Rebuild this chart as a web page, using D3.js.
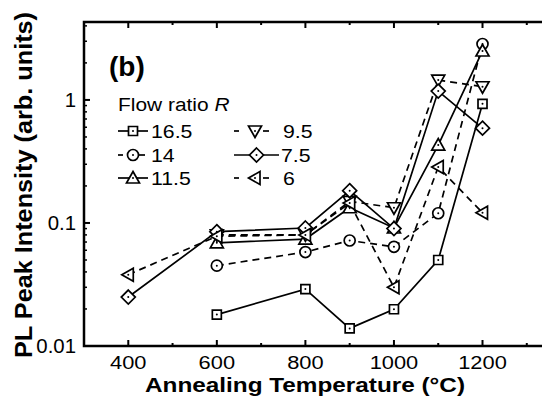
<!DOCTYPE html>
<html>
<head>
<meta charset="utf-8">
<script src="https://cdn.jsdelivr.net/npm/d3@7"></script>
<style>
  body { margin: 0; background: #fff; }
  text { font-family: "Liberation Sans", Arial, sans-serif; fill: #000; }
</style>
</head>
<body>
<div id="chart"></div>
<script>
// annealing temperatures and PL peak intensity per flow ratio
const temps = [400, 600, 800, 900, 1000, 1100, 1200];
const r165 = [null, 0.018, 0.029, 0.0139, 0.0199, 0.050, 0.93];
const r14  = [null, 0.045, 0.058, 0.072, 0.064, 0.12, 2.85];
const r115 = [null, 0.069, 0.074, 0.133, 0.091, 0.43, 2.5];
const r95  = [null, 0.080, 0.080, 0.150, 0.133, 1.45, 1.28];
const r75  = [0.025, 0.085, 0.091, 0.183, 0.090, 1.18, 0.59];
const r6   = [0.038, 0.078, 0.080, 0.145, 0.030, 0.285, 0.121];

const xTicks = [400, 600, 800, 1000, 1200];
const yTicks = [0.01, 0.1, 1];

const series = [
  { name: '16.5', vals: r165, marker: 'square', dashed: false },
  { name: '14', vals: r14, marker: 'circle', dashed: true },
  { name: '11.5', vals: r115, marker: 'triUp', dashed: false },
  { name: '9.5', vals: r95, marker: 'triDown', dashed: true },
  { name: '7.5', vals: r75, marker: 'diamond', dashed: false },
  { name: '6', vals: r6, marker: 'triLeft', dashed: true }
];

const width = 542, height = 398;
const margin = { top: 22, left: 84, bottom: 52 };

const svg = d3.select('#chart').append('svg')
  .attr('width', width)
  .attr('height', height);

const x = d3.scaleLinear().domain([300, 1340]).range([margin.left, 544.5]);
const y = d3.scaleLog().domain([0.01, 4.3]).range([height - margin.bottom, margin.top]);

// the original lettering is a bit wide, so stretch text horizontally
function addText(g, tx, ty, str, sx, anchor) {
  return g.append('text')
    .attr('transform', `translate(${tx},${ty}) scale(${sx},1)`)
    .attr('text-anchor', anchor || 'start')
    .text(str);
}

// marker shapes, centred on 0,0
function markerPath(type) {
  const p = d3.path();
  if (type === 'square') {
    p.rect(-4.5, -4.5, 9, 9);
  } else if (type === 'circle') {
    p.arc(0, 0, 5.5, 0, 2 * Math.PI);
  } else if (type === 'triUp') {
    p.moveTo(0, -6.5); p.lineTo(6.5, 5); p.lineTo(-6.5, 5); p.closePath();
  } else if (type === 'triDown') {
    p.moveTo(0, 6.5); p.lineTo(6.5, -5); p.lineTo(-6.5, -5); p.closePath();
  } else if (type === 'diamond') {
    p.moveTo(0, -7); p.lineTo(7, 0); p.lineTo(0, 7); p.lineTo(-7, 0); p.closePath();
  } else if (type === 'triLeft') {
    p.moveTo(-6.5, 0); p.lineTo(5, -6.5); p.lineTo(5, 6.5); p.closePath();
  }
  return p.toString();
}

function drawMarker(g, type, cx, cy) {
  const m = g.append('g').attr('transform', `translate(${cx},${cy})`);
  m.append('path').attr('d', markerPath(type))
    .attr('fill', '#fff').attr('stroke', '#000').attr('stroke-width', 1.7);
  m.append('circle').attr('r', 1).attr('fill', '#000');
}

// lines
const line = d3.line()
  .defined(d => d.v != null)
  .x(d => x(d.t))
  .y(d => y(d.v));

const plot = svg.append('g');
series.forEach(s => {
  const pts = temps.map((t, i) => ({ t: t, v: s.vals[i] }));
  plot.append('path')
    .datum(pts)
    .attr('d', line)
    .attr('fill', 'none')
    .attr('stroke', '#000')
    .attr('stroke-width', 1.7)
    .attr('stroke-dasharray', s.dashed ? '7,5' : null);
});
series.forEach(s => {
  temps.forEach((t, i) => {
    if (s.vals[i] != null) drawMarker(plot, s.marker, x(t), y(s.vals[i]));
  });
});

// axes frame
const frame = svg.append('g');
frame.append('path')
  .attr('d', `M${width + 5},${y(4.3)}H${margin.left}V${y(0.01)}H${width + 5}`)
  .attr('fill', 'none').attr('stroke', '#000').attr('stroke-width', 2.5);

const xMinor = d3.range(400, 1340, 100).filter(v => !xTicks.includes(v));
const yMinor = [];
[0.01, 0.1, 1].forEach(d => { for (let k = 2; k <= 9; k++) if (d * k < 4.3) yMinor.push(d * k); });

// bottom and top ticks, pointing inward
[[y(0.01), -1], [y(4.3), 1]].forEach(([yy, dir]) => {
  xTicks.forEach(t => frame.append('line')
    .attr('x1', x(t)).attr('x2', x(t)).attr('y1', yy).attr('y2', yy + dir * 6)
    .attr('stroke', '#000').attr('stroke-width', 2));
  xMinor.forEach(t => frame.append('line')
    .attr('x1', x(t)).attr('x2', x(t)).attr('y1', yy).attr('y2', yy + dir * 3)
    .attr('stroke', '#000').attr('stroke-width', 2));
});
yTicks.forEach(t => frame.append('line')
  .attr('x1', margin.left).attr('x2', margin.left + 6).attr('y1', y(t)).attr('y2', y(t))
  .attr('stroke', '#000').attr('stroke-width', 2));
yMinor.forEach(t => frame.append('line')
  .attr('x1', margin.left).attr('x2', margin.left + 3).attr('y1', y(t)).attr('y2', y(t))
  .attr('stroke', '#000').attr('stroke-width', 1.5));

// tick labels
const xl = svg.append('g').attr('font-size', 19);
xTicks.forEach(t => addText(xl, x(t), 369, t, 1.15, 'middle'));
const yl = svg.append('g').attr('font-size', 20);
yTicks.forEach(t => addText(yl, 76, y(t) + 7, d3.format('')(t), 1.02, 'end'));

// axis titles
svg.append('text')
  .attr('x', 305).attr('y', 392)
  .attr('text-anchor', 'middle').attr('font-size', 20).attr('font-weight', 'bold')
  .attr('textLength', 320).attr('lengthAdjust', 'spacingAndGlyphs')
  .text('Annealing Temperature (°C)');
svg.append('text')
  .attr('transform', 'translate(32,185) rotate(-90)')
  .attr('text-anchor', 'middle').attr('font-size', 23).attr('font-weight', 'bold')
  .attr('textLength', 346).attr('lengthAdjust', 'spacingAndGlyphs')
  .text('PL Peak Intensity (arb. units)');

// panel label
svg.append('text')
  .attr('x', 109).attr('y', 76)
  .attr('font-size', 28).attr('font-weight', 'bold')
  .text('(b)');

// legend
const leg = svg.append('g').attr('font-size', 19);
const title = addText(leg, 118, 111, '', 1.1);
title.append('tspan').text('Flow ratio  ');
title.append('tspan').attr('font-style', 'italic').text('R');

const rows = [131, 155, 178];
const cols = [
  { x0: 118, w: 30, mk: 15, d2: 21, label: 151 },
  { x0: 234, w: 45, mk: 21, d2: 29, label: 283 }
];
series.forEach((s, i) => {
  const c = cols[Math.floor(i / 3)];
  const cy = rows[i % 3];
  const lg = leg.append('g');
  if (s.dashed) {
    lg.append('line').attr('x1', c.x0).attr('x2', c.x0 + 5).attr('y1', cy).attr('y2', cy)
      .attr('stroke', '#000').attr('stroke-width', 1.7);
    lg.append('line').attr('x1', c.x0 + c.d2).attr('x2', c.x0 + c.d2 + 6).attr('y1', cy).attr('y2', cy)
      .attr('stroke', '#000').attr('stroke-width', 1.7);
    drawMarker(lg, s.marker, c.x0 + c.mk, cy);
  } else {
    lg.append('line').attr('x1', c.x0).attr('x2', c.x0 + c.w).attr('y1', cy).attr('y2', cy)
      .attr('stroke', '#000').attr('stroke-width', 1.7);
    drawMarker(lg, s.marker, c.x0 + c.w / 2, cy);
  }
  addText(lg, i >= 3 && !s.dashed ? c.label - 2 : c.label, cy + 7, s.name, 1.12);
});
</script>
</body>
</html>
